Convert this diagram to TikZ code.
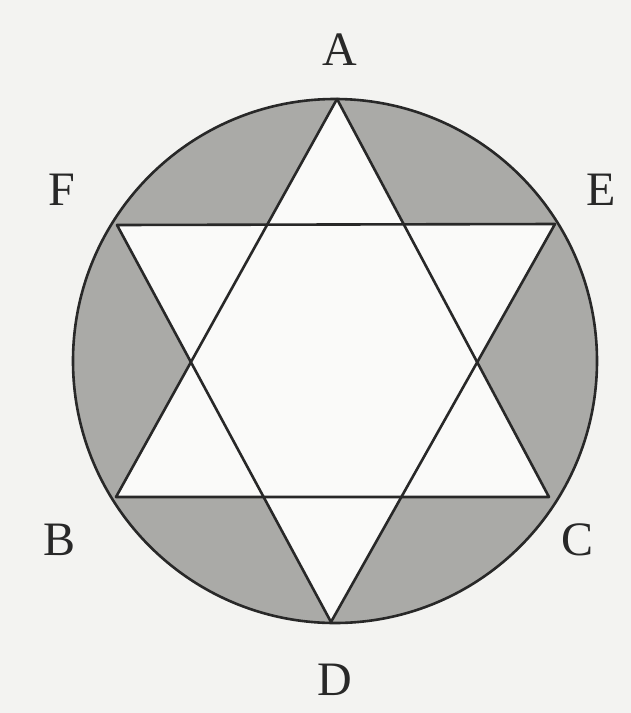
\documentclass[tikz,border=0pt]{standalone}
\usepackage{fontspec}
\setmainfont{Liberation Serif}
\definecolor{bgcol}{RGB}{243,243,241}
\definecolor{shadegray}{RGB}{170,170,167}
\definecolor{innercol}{RGB}{250,250,249}
\definecolor{ink}{RGB}{40,40,40}
\begin{document}
\begin{tikzpicture}[x=1pt,y=-1pt,
  edge/.style={draw=ink,line width=2.6pt,line join=round},
  lbl/.style={text=ink,font=\fontsize{48}{56}\selectfont,inner sep=0pt}]
\fill[bgcol] (0,0) rectangle (631,713);
\useasboundingbox (0,0) rectangle (631,713);
\coordinate (O) at (335,361);
\def\R{262}
\coordinate (A) at (337,99);
\coordinate (E) at (555,224);
\coordinate (C) at (549,497);
\coordinate (D) at (331,622);
\coordinate (B) at (116,497);
\coordinate (F) at (117,225);
\fill[shadegray] (O) circle[radius=\R];
\fill[innercol] (A) -- (C) -- (B) -- cycle;
\fill[innercol] (D) -- (E) -- (F) -- cycle;
\draw[edge] (O) circle[radius=\R];
\draw[edge] (A) -- (C) -- (B) -- cycle;
\draw[edge] (D) -- (E) -- (F) -- cycle;
\node[lbl] (lA) at (340,50) {A};
\node[lbl] (lE) at (601,190) {E};
\node[lbl] (lF) at (62,190) {F};
\node[lbl] (lB) at (60,540) {B};
\node[lbl] (lC) at (578,540) {C};
\node[lbl] (lD) at (335,680) {D};
\end{tikzpicture}
\end{document}
